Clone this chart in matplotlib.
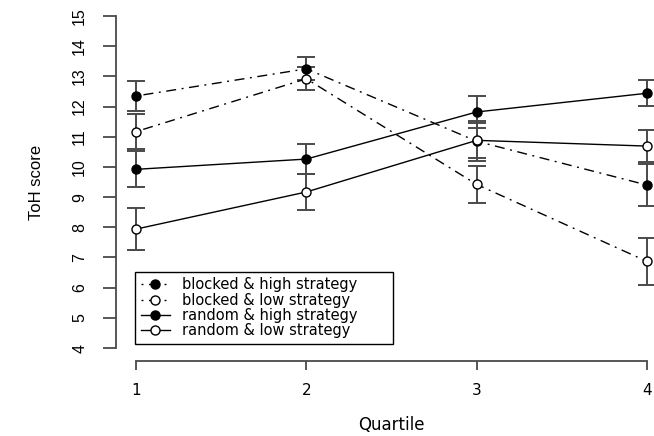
import matplotlib
matplotlib.use("Agg")
from matplotlib import pyplot as plt

plt.rcParams['font.family'] = ['DejaVu Sans']

# Data
quartiles = [1, 2, 3, 4]
blocked_high = [12.35, 13.25, 10.85, 9.40]
blocked_high_err = [0.49, 0.38, 0.66, 0.70]
blocked_low = [11.17, 12.92, 9.42, 6.87]
blocked_low_err = [0.57, 0.38, 0.60, 0.77]
random_high = [9.92, 10.26, 11.82, 12.44]
random_high_err = [0.60, 0.49, 0.53, 0.43]
random_low = [7.94, 9.17, 10.88, 10.69]
random_low_err = [0.70, 0.61, 0.57, 0.52]
labels = ['blocked & high strategy', 'blocked & low strategy',
          'random & high strategy', 'random & low strategy']
yticks = list(range(4, 16))

fig = plt.figure(figsize=(6.54, 4.36), dpi=100)
# axes spans a bit past the right edge, like the cropped original
ax = fig.add_axes([0.1768, 0.1713, 0.8437, 0.8225])
ax.set_xlim(0.88, 4.12)
ax.set_ylim(3.56, 15.44)

dotdash = (0, (1.4, 4, 7.2, 4))
series = [
    (blocked_high, blocked_high_err, dotdash, 'black'),
    (blocked_low, blocked_low_err, dotdash, 'white'),
    (random_high, random_high_err, '-', 'black'),
    (random_low, random_low_err, '-', 'white'),
]

# Error bars first, then lines and points on top
for vals, errs, ls, fc in series:
    ax.errorbar(quartiles, vals, yerr=errs, fmt='none', ecolor='#4a4a4a',
                elinewidth=1.4, capsize=6.5, capthick=1.4, zorder=2)

handles = []
for (vals, errs, ls, fc), lab in zip(series, labels):
    ln, = ax.plot(quartiles, vals, linestyle=ls, color='black', lw=1.0,
                  marker='o', markersize=6.5, markerfacecolor=fc,
                  markeredgecolor='black', markeredgewidth=1.0,
                  label=lab, zorder=3, clip_on=False)
    handles.append(ln)

# R style axes: no box, lines only between first and last tick
for side in ['top', 'right']:
    ax.spines[side].set_visible(False)
ax.spines['left'].set_bounds(4, 15)
ax.spines['bottom'].set_bounds(1, 4)
for side in ['left', 'bottom']:
    ax.spines[side].set_color('#4a4a4a')
    ax.spines[side].set_linewidth(1.3)

ax.set_xticks(quartiles)
ax.set_yticks(yticks)
ax.tick_params(axis='y', length=9.5, width=1.3, color='#4a4a4a',
               pad=11, labelrotation=90)
ax.tick_params(axis='x', length=6.5, width=1.3, color='#4a4a4a',
               labelsize=11, pad=9)
for t in ax.get_yticklabels():
    t.set_va('center')
    t.set_fontfamily('Liberation Sans')
    t.set_fontsize(11.5)

ax.set_xlabel('Quartile', fontsize=12)
ax.xaxis.set_label_coords(0.5, -0.178)
ax.xaxis.label.set_va('center')
ax.set_ylabel('ToH score', fontsize=12, family='Liberation Sans')
ax.yaxis.set_label_coords(-0.143, 0.5)
ax.yaxis.label.set_va('center')

leg = ax.legend(handles=handles, loc='lower left',
                bbox_to_anchor=(0.035, 0.048, 0.4675, 0.206), mode='expand',
                borderaxespad=0, fancybox=False, edgecolor='black',
                framealpha=1, fontsize=10.5, labelspacing=0.02,
                handlelength=2.0, handletextpad=0.8, borderpad=0.4)
leg.get_frame().set_linewidth(1.0)

fig.savefig('out.png', dpi=100)
